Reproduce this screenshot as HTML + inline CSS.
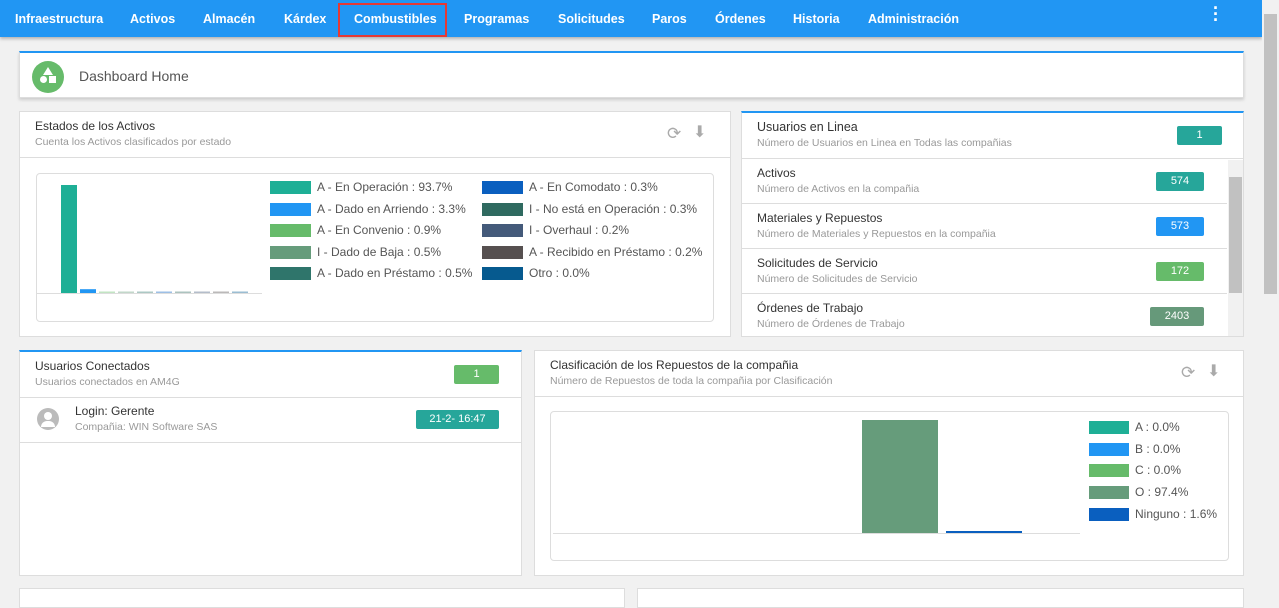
<!DOCTYPE html>
<html><head><meta charset="utf-8">
<style>
*{box-sizing:border-box;margin:0;padding:0}
body{width:1279px;height:595px;overflow:hidden;background:#f1f1f1;font-family:"Liberation Sans",sans-serif;position:relative}
.abs{position:absolute}
.nav{left:0;top:0;width:1262px;height:37px;background:#2196f3;box-shadow:0 2px 3px rgba(0,0,0,.25)}
.nav span{position:absolute;top:12px;color:#fff;font-size:12.5px;font-weight:bold}
.sb{left:1262px;top:0;width:17px;height:595px;background:#f1f1f1}
.card{background:#fff;border:1px solid #ddd}
.bt{border-top:2px solid #2196f3}
.t{font-size:12px;color:#333}
.s{font-size:10.5px;color:#999}
.badge{position:absolute;color:#fff;font-size:11px;text-align:center;line-height:19px;height:19px;border-radius:2px}
.row{position:absolute;left:0;width:485px;border-bottom:1px solid #ddd;height:45px}
.leg{position:absolute;font-size:12px;color:#555;white-space:nowrap}
.sw{position:absolute;width:41px;height:13px}
</style></head><body>
<div class="abs nav">
<span style="left:15px">Infraestructura</span>
<span style="left:130px">Activos</span>
<span style="left:203px">Almacén</span>
<span style="left:284px">Kárdex</span>
<div class="abs" style="left:338px;top:3px;width:109px;height:34px;border:2px solid #e53935"></div>
<span style="left:354px">Combustibles</span>
<span style="left:464px">Programas</span>
<span style="left:558px">Solicitudes</span>
<span style="left:652px">Paros</span>
<span style="left:715px">Órdenes</span>
<span style="left:793px">Historia</span>
<span style="left:868px">Administración</span>
<span style="left:1213px;top:5px;font-size:18px;line-height:6px">·<br>·<br>·</span>
</div>
<div class="abs sb"><div class="abs" style="left:2px;top:14px;width:13px;height:280px;background:#c1c1c1"></div></div>

<div class="abs card bt" style="left:19px;top:51px;width:1225px;height:47px;box-shadow:0 2px 3px rgba(0,0,0,.15)">
<div class="abs" style="left:12px;top:8px;width:32px;height:32px;border-radius:50%;background:#66bb6a">
<div class="abs" style="left:11px;top:6px;width:0;height:0;border-left:5px solid transparent;border-right:5px solid transparent;border-bottom:8px solid #fff"></div>
<div class="abs" style="left:8px;top:15px;width:7px;height:7px;border-radius:50%;background:#fff"></div>
<div class="abs" style="left:17px;top:15px;width:7px;height:7px;background:#fff"></div></div>
<div class="abs" style="left:59px;top:15px;font-size:14px;color:#555">Dashboard Home</div>
</div>

<!-- Card 1 -->
<div class="abs card" style="left:19px;top:111px;width:712px;height:226px">
<div class="abs t" style="left:15px;top:7px">Estados de los Activos</div>
<div class="abs s" style="left:15px;top:24px">Cuenta los Activos clasificados por estado</div>
<div class="abs" style="left:647px;top:12px;font-size:17px;color:#aaa">⟳</div>
<div class="abs" style="left:673px;top:10px;font-size:16px;color:#aaa">⬇</div>
<div class="abs" style="left:0;top:45px;width:710px;border-top:1px solid #ddd"></div>
<div class="abs" style="left:16px;top:61px;width:678px;height:149px;border:1px solid #ddd;border-radius:4px"></div>
</div>
<svg class="abs" style="left:0;top:0" width="1279" height="595" id="svg1"></svg>

<!-- Card 2 -->
<div class="abs card bt" style="left:741px;top:111px;width:503px;height:226px">
<div class="abs t" style="left:15px;top:7px;font-size:12.5px">Usuarios en Linea</div>
<div class="abs s" style="left:15px;top:24px">Número de Usuarios en Linea en Todas las compañias</div>
<div class="badge" style="left:435px;top:13px;width:45px;background:#26a69a">1</div>
<div class="abs" style="left:0;top:45px;width:501px;border-top:1px solid #ddd"></div>
<div class="abs" style="left:486px;top:47px;width:15px;height:176px;background:#f1f1f1"><div class="abs" style="left:1px;top:17px;width:13px;height:116px;background:#c1c1c1"></div></div>
<div class="row" style="top:46px"><div class="abs t" style="left:15px;top:7px">Activos</div><div class="abs s" style="left:15px;top:24px">Número de Activos en la compañia</div><div class="badge" style="left:414px;top:13px;width:48px;background:#26a69a">574</div></div>
<div class="row" style="top:91px"><div class="abs t" style="left:15px;top:7px">Materiales y Repuestos</div><div class="abs s" style="left:15px;top:24px">Número de Materiales y Repuestos en la compañia</div><div class="badge" style="left:414px;top:13px;width:48px;background:#2196f3">573</div></div>
<div class="row" style="top:136px"><div class="abs t" style="left:15px;top:7px">Solicitudes de Servicio</div><div class="abs s" style="left:15px;top:24px">Número de Solicitudes de Servicio</div><div class="badge" style="left:414px;top:13px;width:48px;background:#66bb6a">172</div></div>
<div class="row" style="top:181px;border:none"><div class="abs t" style="left:15px;top:7px">Órdenes de Trabajo</div><div class="abs s" style="left:15px;top:24px">Número de Órdenes de Trabajo</div><div class="badge" style="left:408px;top:13px;width:54px;background:#66997a">2403</div></div>
</div>

<!-- Card 3 -->
<div class="abs card bt" style="left:19px;top:350px;width:503px;height:226px">
<div class="abs t" style="left:15px;top:7px">Usuarios Conectados</div>
<div class="abs s" style="left:15px;top:24px">Usuarios conectados en AM4G</div>
<div class="badge" style="left:434px;top:13px;width:45px;background:#66bb6a">1</div>
<div class="abs" style="left:0;top:45px;width:501px;border-top:1px solid #ddd"></div>
<div class="abs" style="left:17px;top:56px;width:22px;height:22px;border-radius:50%;background:#bbb"><div class="abs" style="left:7px;top:4px;width:8px;height:8px;border-radius:50%;background:#fff"></div><div class="abs" style="left:4px;top:13px;width:14px;height:6px;border-radius:7px 7px 0 0;background:#fff"></div></div>
<div class="abs t" style="left:55px;top:52px">Login: Gerente</div>
<div class="abs s" style="left:55px;top:69px">Compañia: WIN Software SAS</div>
<div class="badge" style="left:396px;top:58px;width:83px;background:#26a69a">21-2- 16:47</div>
<div class="abs" style="left:0;top:90px;width:501px;border-top:1px solid #ddd"></div>
</div>

<!-- Card 4 -->
<div class="abs card" style="left:534px;top:350px;width:710px;height:226px">
<div class="abs t" style="left:15px;top:7px">Clasificación de los Repuestos de la compañia</div>
<div class="abs s" style="left:15px;top:24px">Número de Repuestos de toda la compañia por Clasificación</div>
<div class="abs" style="left:646px;top:12px;font-size:17px;color:#aaa">⟳</div>
<div class="abs" style="left:672px;top:10px;font-size:16px;color:#aaa">⬇</div>
<div class="abs" style="left:0;top:45px;width:708px;border-top:1px solid #ddd"></div>
<div class="abs" style="left:15px;top:60px;width:679px;height:150px;border:1px solid #ddd;border-radius:4px"></div>
</div>

<div class="abs card" style="left:19px;top:588px;width:606px;height:20px"></div>
<div class="abs card" style="left:637px;top:588px;width:607px;height:20px"></div>

<svg class="abs" style="left:0;top:0;pointer-events:none" width="1279" height="595" id="svg2"></svg>
<div id="legs"></div>

<script>
const cats1=["A - En Operación","A - Dado en Arriendo","A - En Convenio","I - Dado de Baja","A - Dado en Préstamo","A - En Comodato","I - No está en Operación","I - Overhaul","A - Recibido en Préstamo","Otro"];
const vals1=[93.7,3.3,0.9,0.5,0.5,0.3,0.3,0.2,0.2,0.0];
const cols1=["#1eaf96","#2196f3","#66bb6a","#669c7b","#2f756b","#0a5fbf","#2f6a60","#445a7a","#565050","#065a8f"];
const cats2=["A","B","C","O","Ninguno"];
const vals2=[0.0,0.0,0.0,97.4,1.6];
const cols2=["#1eaf96","#2196f3","#66bb6a","#669c7b","#0a5fbf"];
const NS="http://www.w3.org/2000/svg";
function mk(svg,tag,a){const e=document.createElementNS(NS,tag);for(const k in a)e.setAttribute(k,a[k]);svg.appendChild(e);return e;}
const s1=document.getElementById('svg1'),s2=document.getElementById('svg2');
const y1=v=>293-v*(108/93.7);
const x1=i=>61+i*19;
let ax=mk(s1,'line',{x1:37,x2:262,y1:293.5,y2:293.5,stroke:'#ddd'});


vals1.forEach((v,i)=>{const h=Math.max(293-y1(v),0);
 const r=mk(s1,'rect',{x:x1(i),y:293-Math.max(h,1.5),width:16,height:Math.max(h,1.5),fill:cols1[i],opacity:i<2?1:0.4});
 
 });
const legs=document.getElementById('legs');
cats1.forEach((c,i)=>{const col=i<5?0:1,row=i%5;const y=181+row*21.6;
 const sw=document.createElement('div');sw.className='sw';sw.style.cssText=`left:${col?482:270}px;top:${y}px;background:${cols1[i]}`;
 
 
 legs.appendChild(sw);
 const t=document.createElement('div');t.className='leg';t.style.cssText=`left:${col?529:317}px;top:${y-1}px`;t.textContent=c+' : '+vals1[i].toFixed(1)+'%';
 
 
 legs.appendChild(t);});
const y2=v=>533-v*(113/97.4);
const x2=i=>610+i*84;
let ax2=mk(s2,'line',{x1:553,x2:1080,y1:533.5,y2:533.5,stroke:'#ddd'});


vals2.forEach((v,i)=>{if(v<=0)return;const h=533-y2(v);
 const r=mk(s2,'rect',{x:x2(i),y:533-Math.max(h,2),width:76,height:Math.max(h,2),fill:cols2[i]});
 
 });
cats2.forEach((c,i)=>{const y=421+i*21.7;
 const sw=document.createElement('div');sw.className='sw';sw.style.cssText=`left:1089px;top:${y}px;width:40px;background:${cols2[i]}`;
 
 
 legs.appendChild(sw);
 const t=document.createElement('div');t.className='leg';t.style.cssText=`left:1135px;top:${y-1}px`;t.textContent=c+' : '+vals2[i].toFixed(1)+'%';
 
 
 legs.appendChild(t);});
</script>
</body></html>
